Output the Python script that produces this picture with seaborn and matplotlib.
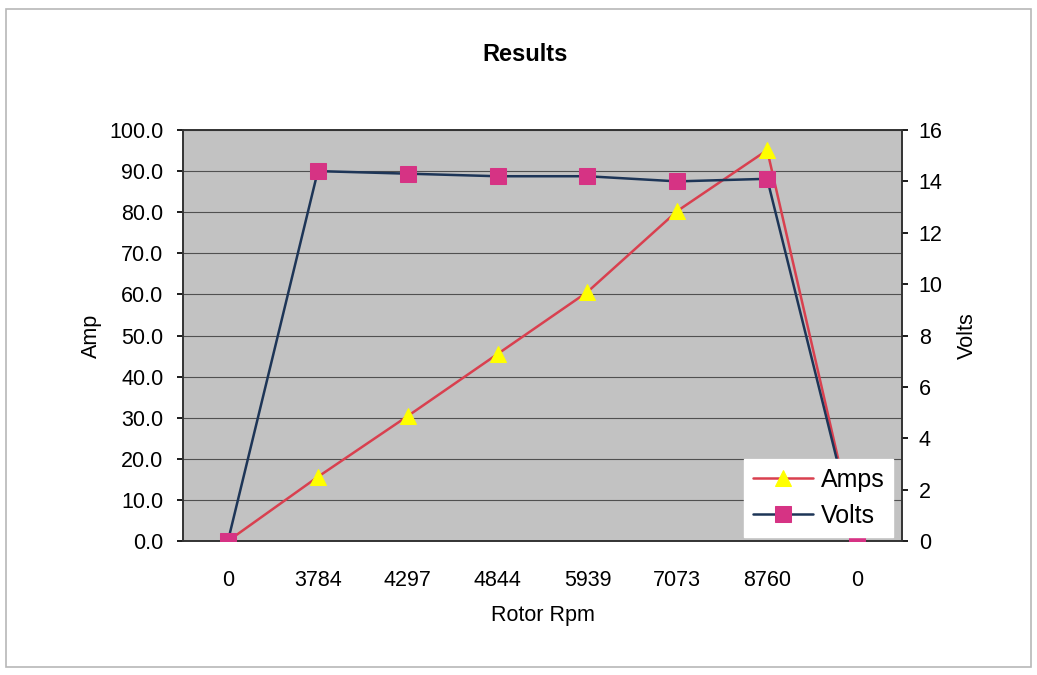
import matplotlib

matplotlib.use("Agg")
import matplotlib.pyplot as plt
import numpy as np
import pandas as pd
import seaborn as sns
from matplotlib.patches import Rectangle

# data
rpm_labels = ["0", "3784", "4297", "4844", "5939", "7073", "8760", "0"]
amps = [0.0, 15.6, 30.4, 45.5, 60.6, 80.3, 95.1, 0.0]
volts = [0.0, 14.4, 14.3, 14.2, 14.2, 14.0, 14.1, 0.0]

sns.set_theme(style="white")
plt.rcParams["font.family"] = ["Liberation Sans", "DejaVu Sans"]
plt.rcParams["text.color"] = "black"
plt.rcParams["axes.labelcolor"] = "black"

df = pd.DataFrame({"pos": np.arange(len(rpm_labels)), "Amps": amps, "Volts": volts})

fs = 15.5
fig = plt.figure(figsize=(10.37, 6.75), dpi=100)
fig.patches.append(Rectangle((0.006, 0.012), 0.988, 0.975, transform=fig.transFigure,
                             fill=False, edgecolor="#b8b8b8", linewidth=1.2))
ax = fig.add_axes([0.1765, 0.1985, 0.6933, 0.6089])
ax.set_facecolor("#c2c2c2")

sns.lineplot(data=df, x="pos", y="Amps", ax=ax, color="#d9404f", linewidth=1.8,
             marker="^", markersize=11.5, markerfacecolor="#ffff00",
             markeredgecolor="#ffff00", label="Amps", legend=False, zorder=3)

ax2 = ax.twinx()
sns.lineplot(data=df, x="pos", y="Volts", ax=ax2, color="#1d3557", linewidth=1.8,
             marker="s", markersize=11.5, markerfacecolor="#d63384",
             markeredgecolor="#d63384", label="Volts", legend=False, zorder=3)

ax.set_xlim(-0.5, len(rpm_labels) - 0.5)
ax.set_ylim(0, 100)
ax.set_yticks(np.arange(0, 101, 10))
ax.set_yticklabels([f"{v:.1f}" for v in np.arange(0, 101, 10)])
ax2.set_ylim(0, 16)
ax2.set_yticks(np.arange(0, 17, 2))
ax.set_xticks(df["pos"])
ax.set_xticklabels(rpm_labels)
ax.grid(axis="y", color="#505050", linewidth=0.8)
ax.set_axisbelow(True)

for a in (ax, ax2):
    a.tick_params(labelsize=fs, length=4, colors="black")
    for s in a.spines.values():
        s.set_color("#333333")
        s.set_linewidth(1.2)
ax.tick_params(axis="x", length=0, pad=21)
ax.tick_params(axis="y", direction="out", left=True, pad=10)
ax2.tick_params(axis="y", direction="out", right=True, pad=8)

ax.set_xlabel("Rotor Rpm", fontsize=fs, labelpad=10)
ax.set_ylabel("Amp", fontsize=fs, labelpad=5)
ax2.set_ylabel("Volts", fontsize=fs, labelpad=10)
fig.text(0.506, 0.919, "Results", fontsize=17, fontweight="bold",
         ha="center", va="center")

h1, l1 = ax.get_legend_handles_labels()
h2, l2 = ax2.get_legend_handles_labels()
leg = ax2.legend(h1 + h2, l1 + l2, loc="lower right", bbox_to_anchor=(0.9875, 0.01),
                 fontsize=18, frameon=True, fancybox=False, framealpha=1,
                 edgecolor="white", borderaxespad=0, borderpad=0.35,
                 handlelength=2.4, handletextpad=0.3, labelspacing=0.5)
leg.set_zorder(10)

fig.savefig("out.png", dpi=100)
